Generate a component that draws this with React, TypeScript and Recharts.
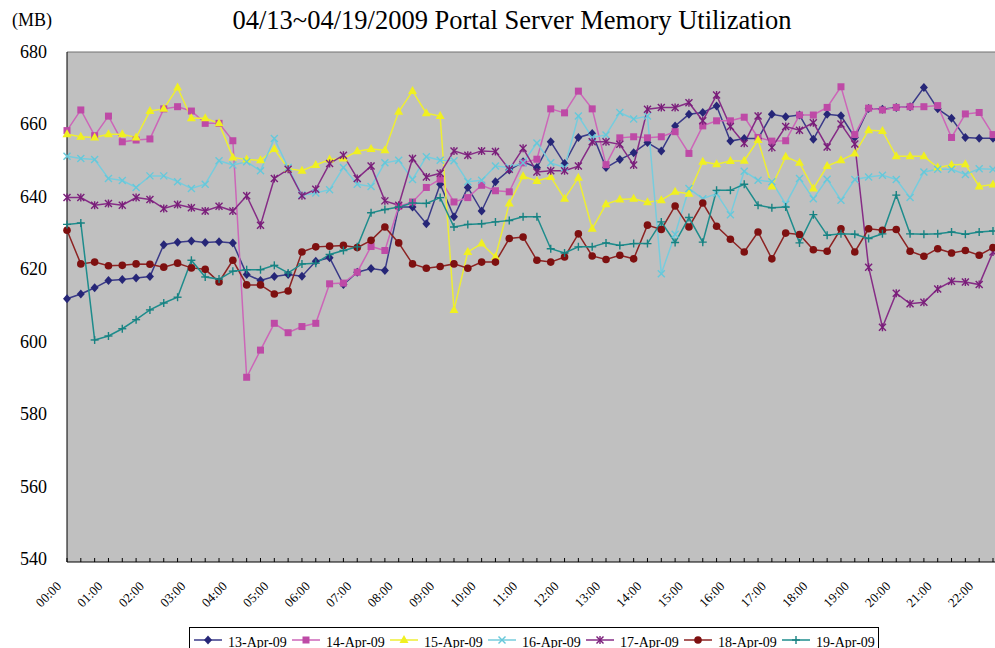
import React from 'react';
import { LineChart, Line, XAxis, YAxis, CartesianGrid, ReferenceLine, Legend } from 'recharts';

// 20-minute samples
const times = [
  '00:00', '00:20', '00:40', '01:00', '01:20', '01:40', '02:00', '02:20', '02:40', '03:00', '03:20', '03:40',
  '04:00', '04:20', '04:40', '05:00', '05:20', '05:40', '06:00', '06:20', '06:40', '07:00', '07:20', '07:40',
  '08:00', '08:20', '08:40', '09:00', '09:20', '09:40', '10:00', '10:20', '10:40', '11:00', '11:20', '11:40',
  '12:00', '12:20', '12:40', '13:00', '13:20', '13:40', '14:00', '14:20', '14:40', '15:00', '15:20', '15:40',
  '16:00', '16:20', '16:40', '17:00', '17:20', '17:40', '18:00', '18:20', '18:40', '19:00', '19:20', '19:40',
  '20:00', '20:20', '20:40', '21:00', '21:20', '21:40', '22:00', '22:20',
];

const apr13 = [
  612.7, 614.0, 615.7, 617.7, 618.0, 618.4, 618.8, 627.6, 628.3, 628.6, 628.2, 628.4,
  628.1, 619.4, 617.7, 618.8, 619.4, 618.9, 623.0, 624.0, 616.6, 620.0, 621.0, 620.5,
  638.0, 638.0, 633.4, 644.3, 635.3, 643.4, 636.9, 645.0, 648.2, 650.5, 648.9, 656.0,
  650.0, 657.2, 658.3, 648.9, 651.1, 653.0, 655.8, 653.5, 660.4, 663.6, 664.1, 665.9,
  656.2, 656.9, 656.9, 663.6, 662.9, 663.4, 656.7, 663.6, 663.2, 657.2, 665.2, 665.0,
  665.5, 665.7, 671.0, 665.1, 662.5, 657.2, 657.0, 657.0,
];
const apr14 = [
  659.1, 664.8, 657.7, 663.1, 656.0, 656.5, 656.8, 665.1, 665.7, 664.5, 661.1, 661.1,
  656.3, 591.0, 598.5, 605.9, 603.3, 605.0, 605.9, 616.8, 617.0, 620.0, 627.1, 626.0,
  638.2, 639.4, 643.4, 645.7, 639.4, 640.6, 644.0, 642.5, 642.2, 650.2, 651.2, 665.1,
  664.0, 670.0, 665.1, 649.7, 657.1, 657.4, 657.1, 657.4, 658.8, 652.8, 660.4, 661.8,
  661.8, 662.8, 657.2, 656.2, 656.3, 663.4, 663.4, 665.5, 671.2, 658.0, 665.3, 664.8,
  665.5, 665.7, 665.7, 666.0, 657.2, 663.7, 664.1, 658.0,
];
const apr15 = [
  658.1, 657.4, 657.2, 658.1, 658.1, 657.2, 664.5, 665.1, 671.0, 662.5, 662.5, 661.1,
  651.7, 651.1, 650.9, 654.0, 648.6, 648.0, 649.6, 651.1, 651.4, 653.4, 654.0, 653.7,
  664.3, 670.0, 663.9, 663.1, 609.6, 625.6, 627.9, 624.2, 639.0, 646.5, 645.2, 646.3,
  640.3, 646.1, 632.0, 638.8, 640.1, 640.3, 639.3, 639.9, 642.2, 641.7, 650.5, 649.8,
  650.7, 650.8, 656.5, 643.7, 651.9, 650.2, 643.1, 649.3, 650.9, 652.8, 659.2, 659.0,
  652.0, 652.0, 652.0, 648.9, 649.6, 649.8, 643.7, 644.2,
];
const apr16 = [
  652.0, 651.4, 651.1, 645.9, 645.3, 643.4, 646.6, 646.6, 645.0, 643.1, 644.3, 650.8,
  649.6, 650.5, 648.0, 656.9, 648.9, 641.3, 641.9, 642.8, 648.9, 644.3, 643.7, 650.2,
  650.9, 645.6, 651.9, 650.9, 650.8, 645.0, 645.4, 649.3, 648.9, 650.2, 655.7, 650.2,
  648.9, 663.1, 657.2, 657.9, 664.1, 662.3, 663.1, 619.6, 630.5, 643.1, 640.3, 641.7,
  635.9, 647.9, 645.4, 645.0, 638.8, 645.9, 640.3, 645.7, 639.9, 645.6, 646.3, 646.8,
  645.6, 640.6, 647.7, 648.4, 648.4, 647.0, 648.6, 648.4,
];
const apr17 = [
  640.6, 640.6, 638.5, 639.0, 638.5, 640.6, 640.1, 637.6, 638.7, 637.8, 636.9, 638.2,
  636.9, 641.1, 633.0, 645.9, 648.4, 641.1, 642.9, 650.0, 652.3, 645.9, 649.3, 639.7,
  638.5, 651.4, 646.3, 647.3, 653.5, 652.3, 653.5, 653.3, 648.4, 654.2, 647.7, 648.0,
  648.0, 649.3, 656.0, 656.0, 655.3, 649.6, 665.0, 665.5, 665.5, 666.8, 661.8, 668.9,
  660.2, 655.6, 663.1, 654.4, 660.2, 659.2, 661.3, 654.6, 660.9, 655.4, 621.4, 604.8,
  614.2, 611.3, 611.7, 615.4, 617.5, 617.3, 616.6, 625.6,
];
const apr18 = [
  631.6, 622.3, 622.8, 621.8, 621.9, 622.3, 622.2, 621.4, 622.5, 621.2, 620.8, 617.3,
  623.3, 616.5, 616.5, 614.0, 614.8, 625.6, 627.0, 627.2, 627.4, 626.8, 628.8, 632.5,
  628.1, 622.3, 621.1, 621.6, 622.3, 621.1, 622.8, 622.8, 629.3, 629.7, 623.3, 622.8,
  624.2, 630.6, 624.5, 623.5, 624.7, 623.7, 633.0, 631.8, 638.3, 632.5, 639.1, 632.7,
  629.1, 625.6, 631.1, 623.7, 630.8, 630.4, 626.2, 625.8, 632.0, 625.6, 632.0, 631.6,
  631.8, 625.8, 624.4, 626.5, 625.3, 626.0, 624.7, 626.8,
];
const apr19 = [
  633.2, 633.6, 601.3, 602.4, 604.4, 606.9, 609.6, 611.5, 613.1, 623.3, 618.7, 618.1,
  620.3, 620.7, 620.7, 621.9, 619.8, 622.3, 622.5, 624.9, 626.0, 627.0, 636.4, 637.3,
  638.0, 639.1, 639.0, 640.6, 632.5, 633.2, 633.4, 633.9, 634.3, 635.3, 635.3, 626.5,
  625.3, 627.0, 627.0, 628.1, 627.4, 627.9, 627.9, 633.9, 628.2, 635.1, 628.3, 642.6,
  642.6, 644.3, 638.5, 637.8, 638.0, 628.1, 635.9, 630.2, 630.6, 630.5, 629.3, 630.6,
  641.3, 630.6, 630.5, 630.6, 631.1, 630.5, 631.1, 631.4,
];

const yTicks = [540, 560, 580, 600, 620, 640, 660, 680];

const series = [
  { key: 'apr13', name: '13-Apr-09', values: apr13, color: '#3A3A88', mark: '#262677', kind: 'diamond' },
  { key: 'apr14', name: '14-Apr-09', values: apr14, color: '#CC66B8', mark: '#BE4AA6', kind: 'square' },
  { key: 'apr15', name: '15-Apr-09', values: apr15, color: '#EEEE33', mark: '#F0F020', kind: 'triangle' },
  { key: 'apr16', name: '16-Apr-09', values: apr16, color: '#77CCDD', mark: '#66C8DA', kind: 'cross' },
  { key: 'apr17', name: '17-Apr-09', values: apr17, color: '#862C86', mark: '#7A1E7A', kind: 'star' },
  { key: 'apr18', name: '18-Apr-09', values: apr18, color: '#8C2323', mark: '#7E1010', kind: 'circle' },
  { key: 'apr19', name: '19-Apr-09', values: apr19, color: '#1E8C8C', mark: '#178282', kind: 'plus' },
];

const data = times.map((t, i) => {
  const row: Record<string, any> = { time: t };
  series.forEach(s => { row[s.key] = s.values[i]; });
  return row;
});

const SERIF = '"Liberation Serif", "Times New Roman", serif';

const Marker = ({ kind, cx, cy, color }: { kind: string; cx: number; cy: number; color: string }) => {
  switch (kind) {
    case 'diamond':
      return <polygon points={`${cx},${cy - 4.5} ${cx + 4},${cy} ${cx},${cy + 4.5} ${cx - 4},${cy}`} fill={color} />;
    case 'square':
      return <rect x={cx - 3.5} y={cy - 3.5} width={7} height={7} fill={color} />;
    case 'triangle':
      return <polygon points={`${cx},${cy - 5} ${cx + 4.5},${cy + 3} ${cx - 4.5},${cy + 3}`} fill={color} />;
    case 'cross':
      return (
        <g stroke={color} strokeWidth={1.4}>
          <line x1={cx - 3.5} y1={cy - 3.5} x2={cx + 3.5} y2={cy + 3.5} />
          <line x1={cx - 3.5} y1={cy + 3.5} x2={cx + 3.5} y2={cy - 3.5} />
        </g>
      );
    case 'star':
      return (
        <g stroke={color} strokeWidth={1.4}>
          <line x1={cx - 3.5} y1={cy - 3.5} x2={cx + 3.5} y2={cy + 3.5} />
          <line x1={cx - 3.5} y1={cy + 3.5} x2={cx + 3.5} y2={cy - 3.5} />
          <line x1={cx} y1={cy - 4} x2={cx} y2={cy + 4} />
        </g>
      );
    case 'circle':
      return <circle cx={cx} cy={cy} r={3.8} fill={color} />;
    default:
      return (
        <g stroke={color} strokeWidth={1.4}>
          <line x1={cx - 4} y1={cy} x2={cx + 4} y2={cy} />
          <line x1={cx} y1={cy - 4} x2={cx} y2={cy + 4} />
        </g>
      );
  }
};

const XTick = (props: any) => {
  const { x, y, payload } = props;
  const label = String(payload.value);
  const lx = x - 5;
  const ly = y + 25;
  return (
    <g>
      <line x1={x} x2={x} y1={y - 4} y2={y} stroke="#000" />
      {label.endsWith(':00') && (
        <text x={lx} y={ly} transform={`rotate(-45 ${lx} ${ly})`} textAnchor="end" fontSize={13} fontFamily={SERIF} fill="#000">
          {label}
        </text>
      )}
    </g>
  );
};

const YTick = (props: any) => {
  const { x, y, payload } = props;
  return (
    <text x={x - 20} y={y + 3} textAnchor="end" fontSize={18} fontFamily={SERIF} fill="#000">
      {payload.value}
    </text>
  );
};

const LegendBox = () => (
  <svg width={690} height={30} style={{ display: 'block' }}>
    <rect x={0.5} y={0.5} width={689} height={40} fill="#fff" stroke="#000" />
    {series.map((s, i) => {
      const x0 = 5 + i * 98;
      return (
        <g key={s.key}>
          <line x1={x0} x2={x0 + 28} y1={13} y2={13} stroke={s.color} strokeWidth={1.5} />
          <Marker kind={s.kind} cx={x0 + 14} cy={13} color={s.mark} />
          <text x={x0 + 34} y={19.5} fontSize={14} fontFamily={SERIF} fill="#000">{s.name}</text>
        </g>
      );
    })}
  </svg>
);

export default function App() {
  return (
    <div style={{ position: 'absolute', left: 0, top: 0, width: 995, height: 648, overflow: 'hidden', background: '#fff' }}>
      <LineChart width={1000} height={648} data={data} margin={{ top: 52, right: 0, bottom: 0, left: 0 }}>
        <CartesianGrid horizontal={false} vertical={false} fill="#C0C0C0" />
        <ReferenceLine y={680.8} stroke="#707070" strokeWidth={1} />
        <XAxis
          dataKey="time"
          interval={0}
          tickLine={false}
          tickSize={0}
          tickMargin={0}
          height={86}
          padding={{ left: 0, right: 7 }}
          axisLine={{ stroke: '#000' }}
          tick={<XTick />}
        />
        <YAxis
          type="number"
          domain={[540, 680.8]}
          ticks={yTicks}
          width={67}
          tickLine={false}
          tickSize={0}
          tickMargin={0}
          axisLine={{ stroke: '#000' }}
          tick={<YTick />}
          allowDataOverflow
        />
        {series.map(s => (
          <Line
            key={s.key}
            dataKey={s.key}
            name={s.name}
            type="linear"
            stroke={s.color}
            strokeWidth={1.5}
            isAnimationActive={false}
            activeDot={false}
            dot={(p: any) => <Marker key={`${s.key}-${p.index}`} kind={s.kind} cx={p.cx} cy={p.cy} color={s.mark} />}
          />
        ))}
        <Legend
          layout="horizontal"
          verticalAlign="middle"
          align="center"
          wrapperStyle={{ left: 189, top: 627, width: 690, height: 30 }}
          content={() => <LegendBox />}
        />
      </LineChart>
      <svg width={995} height={50} style={{ position: 'absolute', left: 0, top: 0, pointerEvents: 'none' }}>
        <text x={12} y={26} fontSize={18} fontFamily={SERIF} fill="#000">(MB)</text>
        <text x={512} y={29} fontSize={26.5} fontFamily={SERIF} textAnchor="middle" fill="#000">
          04/13~04/19/2009 Portal Server Memory Utilization
        </text>
      </svg>
    </div>
  );
}
